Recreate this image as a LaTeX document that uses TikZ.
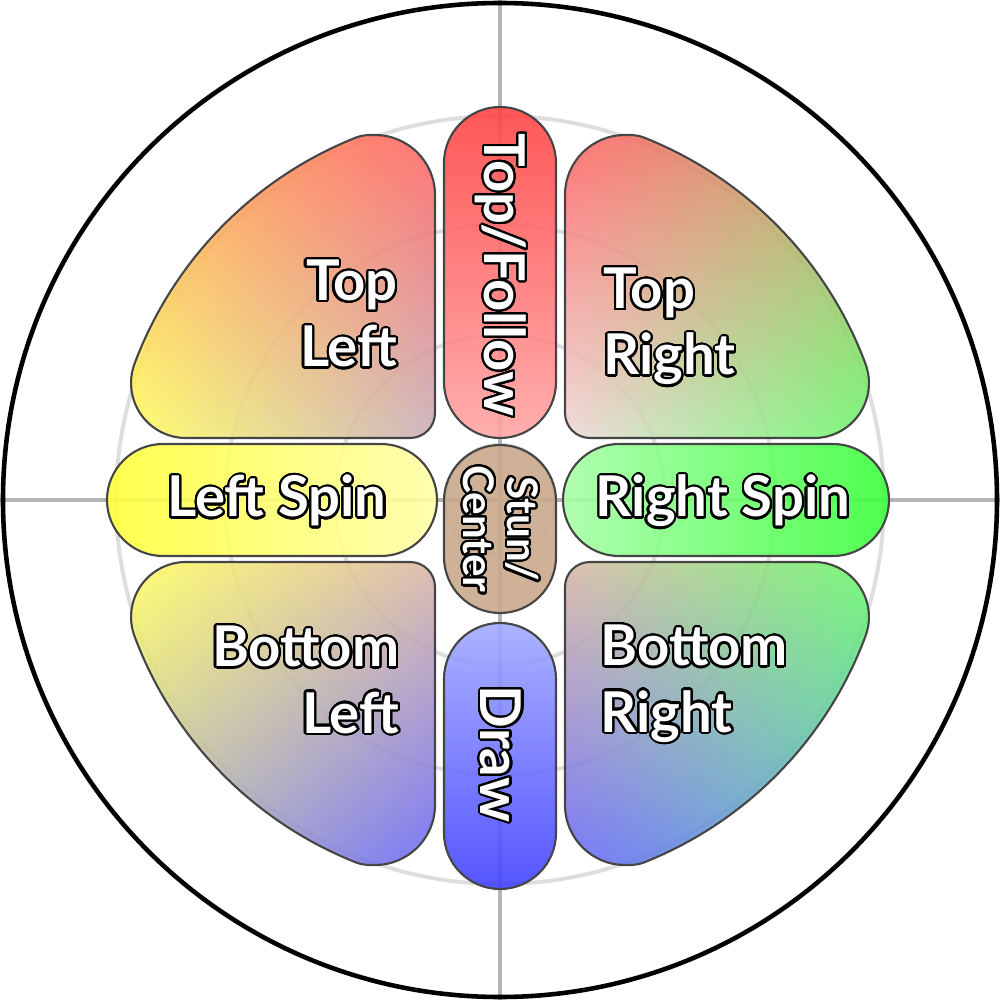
\documentclass[tikz,border=0pt]{standalone}
\usepackage{fontspec}
\setmainfont{Lato}
\usepackage{contour}
\contourlength{0.6pt}
\contournumber{32}
\usetikzlibrary{positioning,shadings}
\definecolor{ringgray}{HTML}{DEDEDE}
\definecolor{axisgray}{HTML}{B4B4B4}
\definecolor{edgegray}{HTML}{454545}
\definecolor{tftop}{HTML}{FF4444}
\definecolor{tfbot}{HTML}{FFA6A6}
\definecolor{drtop}{HTML}{A2AAFF}
\definecolor{drbot}{HTML}{4242FF}
\definecolor{lsleft}{HTML}{FFFF3C}
\definecolor{lsright}{HTML}{FFFFA8}
\definecolor{rsleft}{HTML}{A8FFA8}
\definecolor{rsright}{HTML}{3CFF3C}
\definecolor{stuntan}{HTML}{C9A98B}
\definecolor{qred}{HTML}{FF6666}
\definecolor{qgreen}{HTML}{6AF86A}
\definecolor{qblue}{HTML}{6A6AF8}
\definecolor{qyellow}{HTML}{FFFF62}
\definecolor{qorange}{HTML}{FFA850}
\definecolor{qmauve}{HTML}{C8B0BC}
\definecolor{qtan}{HTML}{C0A868}
\definecolor{qpale}{HTML}{EED8D8}
\definecolor{qbeige}{HTML}{DAB8A8}
\definecolor{qolive}{HTML}{B8B8B0}
\definecolor{qteal}{HTML}{58B8C8}
\newcommand\outl[1]{\contour{black}{#1}}
% one quarter pad, drawn in the upper left quadrant
\newcommand\quadshape{(-65,87) -- (-65,305) arc[start angle=0,end angle=90,radius=60]
  -- (-129.9,365) arc[start angle=90,end angle=111.78,radius=40]
  arc[start angle=111.78,end angle=159.56,radius=390]
  arc[start angle=159.56,end angle=270,radius=55]
  -- (-90,62) arc[start angle=270,end angle=360,radius=25] -- cycle}

\begin{document}
\begin{tikzpicture}[x=0.01cm,y=0.01cm,
  pad/.style={draw=edgegray, line width=0.6pt, fill opacity=0.9},
  lbl/.style={text=white, font=\bfseries\fontsize{16}{18.8}\selectfont, inner sep=0pt},
  smalllbl/.style={lbl, font=\bfseries\fontsize{12}{12.4}\selectfont}]
  \useasboundingbox (-500,-500) rectangle (500,500);
  % rings and axes
  \foreach \r in {55,165,275,384}
    \draw[ringgray, line width=1.1pt] (0,0) circle[radius=\r];
  \draw[axisgray, line width=1pt] (-500,0) -- (500,0);
  \draw[axisgray, line width=1pt] (0,-500) -- (0,500);

  % quarter pads
  \shade[pad, upper left=qorange, upper right=qred,
    lower left=qyellow, lower right=qmauve] \quadshape;
  \shade[pad, xscale=-1, upper left=qred, upper right=qtan,
    lower left=qpale, lower right=qgreen] \quadshape;
  \shade[pad, yscale=-1, upper left=qyellow, upper right=qbeige,
    lower left=qolive, lower right=qblue] \quadshape;
  \shade[pad, xscale=-1, yscale=-1, upper left=qbeige, upper right=qgreen,
    lower left=qblue, lower right=qteal] \quadshape;

  % pills
  \shade[pad, top color=tftop, bottom color=tfbot, rounded corners=5.6mm] (-56,62) rectangle (56,393);
  \fill[pad, fill=stuntan, rounded corners=5.6mm] (-56,-113) rectangle (56,55);
  \shade[pad, top color=drtop, bottom color=drbot, rounded corners=5.6mm] (-56,-389) rectangle (56,-123);
  \shade[pad, left color=lsleft, right color=lsright, rounded corners=5.6mm] (-393,-56) rectangle (-63,56);
  \shade[pad, left color=rsleft, right color=rsright, rounded corners=5.6mm] (63,-56) rectangle (389,56);

  % labels (base is the last line)
  \node[lbl, anchor=base east, align=right] (topleft) at (-102,133) {\outl{Top}\\\outl{Left}};
  \node[lbl, anchor=base west, align=left] (topright) at (103,125) {\outl{Top}\\\outl{Right}};
  \node[lbl, anchor=base east, align=right] (bottomleft) at (-100,-233) {\outl{Bottom}\\\outl{Left}};
  \node[lbl, anchor=base west, align=left] (bottomright) at (100,-232) {\outl{Bottom}\\\outl{Right}};
  \node[lbl, anchor=base] (leftspin) at (-223,-17) {\outl{Left Spin}};
  \node[lbl, anchor=base] (rightspin) at (223,-17) {\outl{Right Spin}};
  \node[lbl, rotate=-90] (topfollow) at (0,225) {\outl{Top/Follow}};
  \node[lbl, rotate=-90] (draw) at (0,-254) {\outl{Draw}};
  \node[smalllbl, rotate=-90, align=center] (stun) at (0,-29) {\outl{Stun/}\\\outl{Center}};

  \draw[line width=1.3pt] (0,0) circle[radius=497];
\end{tikzpicture}
\end{document}
